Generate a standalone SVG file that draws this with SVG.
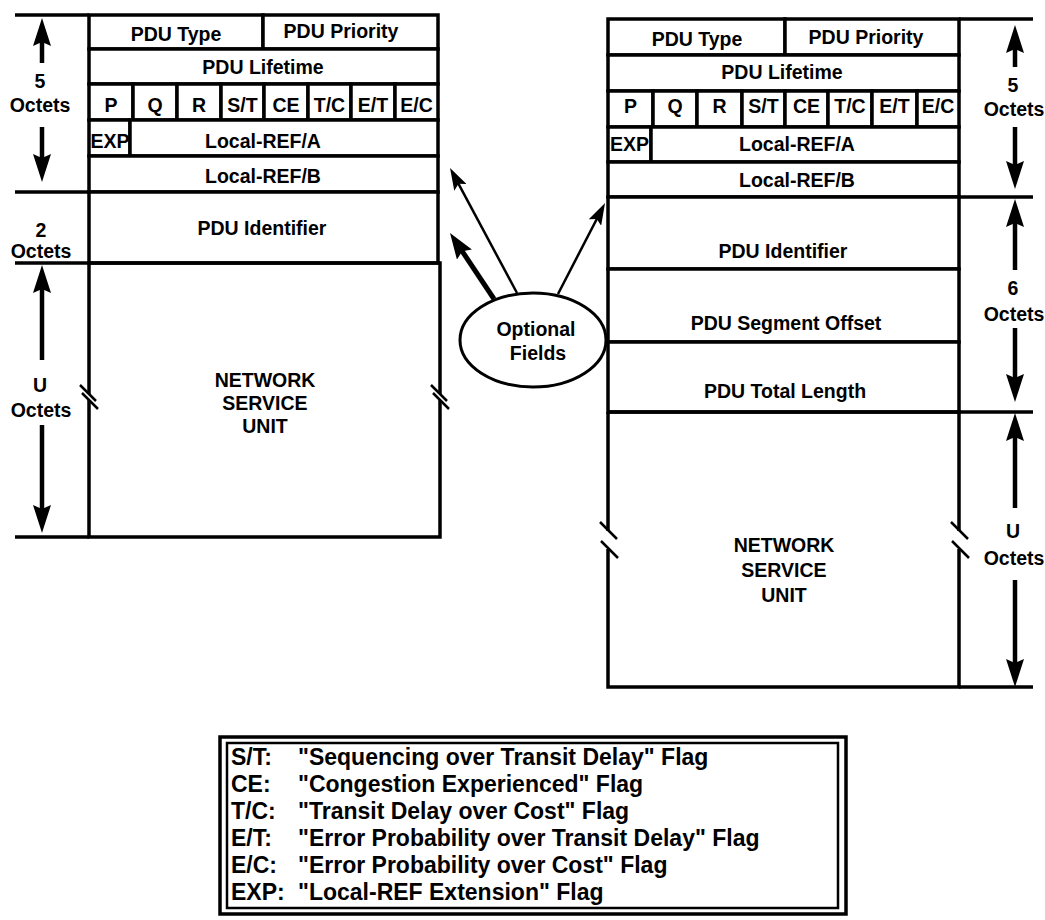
<svg xmlns="http://www.w3.org/2000/svg" width="1045" height="920" viewBox="0 0 1045 920">
<defs>
<style>
.b{fill:#fff;stroke:#000;stroke-width:3.5}
.ln{fill:none;stroke:#000;stroke-width:3.5}
.sh{fill:none;stroke:#000;stroke-width:4.5}
.thin{fill:none;stroke:#000;stroke-width:2.5}
.thick{fill:none;stroke:#000;stroke-width:5}
.t{font-family:"Liberation Sans",Arial,sans-serif;font-weight:bold;font-size:19.5px;text-anchor:middle;fill:#000}
.lg{font-family:"Liberation Sans",Arial,sans-serif;font-weight:bold;font-size:23px;fill:#000}
</style>
<marker id="ah" viewBox="0 0 28 18" refX="8" refY="9" markerWidth="28" markerHeight="18" orient="auto" markerUnits="userSpaceOnUse"><path d="M0,0 L28,9 L0,18 L4,9 Z" fill="#000"/></marker>
<marker id="ahs" viewBox="0 0 22 14" refX="6" refY="7" markerWidth="22" markerHeight="14" orient="auto" markerUnits="userSpaceOnUse"><path d="M0,0 L22,7 L0,14 L4,7 Z" fill="#000"/></marker>
<marker id="ahb" viewBox="0 0 26 18" refX="6" refY="9" markerWidth="26" markerHeight="18" orient="auto" markerUnits="userSpaceOnUse"><path d="M0,0 L26,9 L0,18 L4,9 Z" fill="#000"/></marker>
</defs>
<rect width="1045" height="920" fill="#fff"/>

<!-- LEFT PDU -->
<g id="left-pdu-type"><rect class="b" x="89" y="15" width="174" height="34"/><text class="t" x="176" y="41">PDU Type</text></g>
<g id="left-pdu-priority"><rect class="b" x="263" y="15" width="175" height="34"/><text class="t" x="341" y="38">PDU Priority</text></g>
<g id="left-pdu-lifetime"><rect class="b" x="89" y="49" width="349" height="35"/><text class="t" x="263" y="74">PDU Lifetime</text></g>
<g id="left-flags">
<rect class="b" x="89" y="84" width="44" height="36"/><text class="t" x="111" y="112">P</text>
<rect class="b" x="133" y="84" width="44" height="36"/><text class="t" x="155" y="112">Q</text>
<rect class="b" x="177" y="84" width="44" height="36"/><text class="t" x="199" y="112">R</text>
<rect class="b" x="221" y="84" width="43" height="36"/><text class="t" x="242.5" y="112">S/T</text>
<rect class="b" x="264" y="84" width="44" height="36"/><text class="t" x="286" y="112">CE</text>
<rect class="b" x="308" y="84" width="43" height="36"/><text class="t" x="329.5" y="112">T/C</text>
<rect class="b" x="351" y="84" width="44" height="36"/><text class="t" x="373" y="112">E/T</text>
<rect class="b" x="395" y="84" width="43" height="36"/><text class="t" x="416.5" y="112">E/C</text>
</g>
<g id="left-exp"><rect class="b" x="89" y="120" width="41" height="36"/><text class="t" x="110" y="148">EXP</text></g>
<g id="left-local-ref-a"><rect class="b" x="130" y="120" width="308" height="36"/><text class="t" x="263" y="148">Local-REF/A</text></g>
<g id="left-local-ref-b"><rect class="b" x="89" y="156" width="349" height="36"/><text class="t" x="263" y="183">Local-REF/B</text></g>
<g id="left-pdu-identifier"><rect class="b" x="89" y="192" width="349" height="71"/><text class="t" x="262" y="235">PDU Identifier</text></g>
<g id="left-nsu">
<path class="ln" d="M89,263 H440 V394 M440,400 V537 H89 V400 M89,394 V263"/>
<path class="thin" d="M80,385 L96,401 M82,393 L98,409 M431,385 L447,401 M433,393 L449,409"/>
<text class="t" x="265" y="387">NETWORK</text>
<text class="t" x="265" y="410">SERVICE</text>
<text class="t" x="265" y="433">UNIT</text>
</g>
<g id="left-dimensions">
<path class="ln" d="M15,15 H89 M15,192 H89 M15,263 H89 M15,537 H89"/>
<line class="sh" x1="42" y1="63" x2="42" y2="38" marker-end="url(#ah)"/>
<line class="sh" x1="42" y1="127" x2="42" y2="162" marker-end="url(#ah)"/>
<text class="t" x="40" y="88">5</text><text class="t" x="40" y="112">Octets</text>
<text class="t" x="41" y="237">2</text><text class="t" x="41" y="258">Octets</text>
<line class="sh" x1="42" y1="360" x2="42" y2="285" marker-end="url(#ah)"/>
<line class="sh" x1="42" y1="425" x2="42" y2="513" marker-end="url(#ah)"/>
<text class="t" x="40" y="392">U</text><text class="t" x="41" y="417">Octets</text>
</g>

<!-- RIGHT PDU -->
<g id="right-pdu-type"><rect class="b" x="608" y="19" width="177" height="36"/><text class="t" x="697" y="46">PDU Type</text></g>
<g id="right-pdu-priority"><rect class="b" x="785" y="19" width="174" height="36"/><text class="t" x="866" y="44">PDU Priority</text></g>
<g id="right-pdu-lifetime"><rect class="b" x="608" y="55" width="351" height="36"/><text class="t" x="782" y="79">PDU Lifetime</text></g>
<g id="right-flags">
<rect class="b" x="608" y="91" width="45" height="36"/><text class="t" x="630.5" y="113">P</text>
<rect class="b" x="653" y="91" width="44" height="36"/><text class="t" x="675" y="113">Q</text>
<rect class="b" x="697" y="91" width="45" height="36"/><text class="t" x="719.5" y="113">R</text>
<rect class="b" x="742" y="91" width="43" height="36"/><text class="t" x="763.5" y="113">S/T</text>
<rect class="b" x="785" y="91" width="43" height="36"/><text class="t" x="806.5" y="113">CE</text>
<rect class="b" x="828" y="91" width="44" height="36"/><text class="t" x="850" y="113">T/C</text>
<rect class="b" x="872" y="91" width="45" height="36"/><text class="t" x="894.5" y="113">E/T</text>
<rect class="b" x="917" y="91" width="42" height="36"/><text class="t" x="938" y="113">E/C</text>
</g>
<g id="right-exp"><rect class="b" x="608" y="127" width="43" height="35"/><text class="t" x="629.5" y="151">EXP</text></g>
<g id="right-local-ref-a"><rect class="b" x="651" y="127" width="308" height="35"/><text class="t" x="797" y="151">Local-REF/A</text></g>
<g id="right-local-ref-b"><rect class="b" x="608" y="162" width="351" height="35"/><text class="t" x="797" y="187">Local-REF/B</text></g>
<g id="right-pdu-identifier"><rect class="b" x="608" y="197" width="351" height="72"/><text class="t" x="783" y="258">PDU Identifier</text></g>
<g id="right-pdu-segment-offset"><rect class="b" x="608" y="269" width="351" height="73"/><text class="t" x="786" y="330">PDU Segment Offset</text></g>
<g id="right-pdu-total-length"><rect class="b" x="608" y="342" width="351" height="70"/><text class="t" x="785" y="398">PDU Total Length</text></g>
<g id="right-nsu">
<path class="ln" d="M608,412 H959 V531 M959,549 V687 H608 V549 M608,531 V412"/>
<path class="thin" d="M600,522 L617,539 M601,541 L618,558 M951,522 L968,539 M952,541 L969,558"/>
<text class="t" x="784" y="552">NETWORK</text>
<text class="t" x="784" y="577">SERVICE</text>
<text class="t" x="784" y="602">UNIT</text>
</g>
<g id="right-dimensions">
<path class="ln" d="M959,19 H1033 M959,197 H1033 M959,412 H1033 M959,687 H1033"/>
<line class="sh" x1="1015" y1="67" x2="1015" y2="45" marker-end="url(#ah)"/>
<line class="sh" x1="1015" y1="127" x2="1015" y2="169" marker-end="url(#ah)"/>
<text class="t" x="1013" y="92">5</text><text class="t" x="1014" y="116">Octets</text>
<line class="sh" x1="1015" y1="270" x2="1015" y2="219" marker-end="url(#ah)"/>
<line class="sh" x1="1015" y1="328" x2="1015" y2="382" marker-end="url(#ah)"/>
<text class="t" x="1013" y="295">6</text><text class="t" x="1014" y="321">Octets</text>
<line class="sh" x1="1015" y1="508" x2="1015" y2="433" marker-end="url(#ah)"/>
<line class="sh" x1="1015" y1="580" x2="1015" y2="667" marker-end="url(#ah)"/>
<text class="t" x="1013" y="538">U</text><text class="t" x="1014" y="565">Octets</text>
</g>

<!-- Optional fields -->
<g id="optional-fields">
<ellipse cx="533" cy="340" rx="73" ry="47" fill="#fff" stroke="#000" stroke-width="3"/>
<text class="t" x="536" y="336">Optional</text>
<text class="t" x="538" y="360">Fields</text>
</g>
<g id="connectors">
<line class="thin" x1="517" y1="293" x2="457.6" y2="182.1" marker-end="url(#ahs)"/>
<line class="thick" x1="494" y1="299" x2="461.1" y2="249.6" marker-end="url(#ahb)"/>
<line class="thin" x1="558" y1="294" x2="597.7" y2="217.2" marker-end="url(#ahs)"/>
</g>

<!-- Legend -->
<g id="legend">
<rect x="220" y="737" width="626" height="177" fill="#fff" stroke="#000" stroke-width="3.5"/>
<rect x="227" y="743" width="611" height="165" fill="none" stroke="#000" stroke-width="2.5"/>
<text class="lg" x="231" y="765">S/T:</text><text class="lg" x="298" y="765">"Sequencing over Transit Delay" Flag</text>
<text class="lg" x="231" y="792">CE:</text><text class="lg" x="298" y="792">"Congestion Experienced" Flag</text>
<text class="lg" x="231" y="819">T/C:</text><text class="lg" x="298" y="819">"Transit Delay over Cost" Flag</text>
<text class="lg" x="231" y="846">E/T:</text><text class="lg" x="298" y="846">"Error Probability over Transit Delay" Flag</text>
<text class="lg" x="231" y="873">E/C:</text><text class="lg" x="298" y="873">"Error Probability over Cost" Flag</text>
<text class="lg" x="231" y="900">EXP:</text><text class="lg" x="298" y="900">"Local-REF Extension" Flag</text>
</g>
</svg>
